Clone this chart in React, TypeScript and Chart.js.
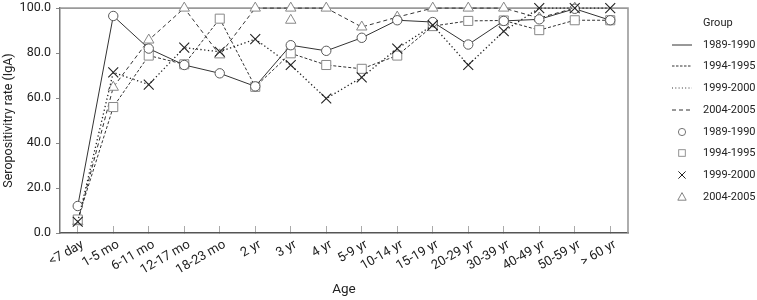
import React, { useEffect, useRef } from 'react';
import { Chart, registerables } from 'chart.js';

Chart.register(...registerables);

const categories = ['<7 day', '1-5 mo', '6-11 mo', '12-17 mo', '18-23 mo', '2 yr', '3 yr', '4 yr', '5-9 yr', '10-14 yr', '15-19 yr', '20-29 yr', '30-39 yr', '40-49 yr', '50-59 yr', '> 60 yr'];

const group1989 = [12, 96.5, 82, 74.7, 71, 65.2, 83.5, 81, 86.8, 94.6, 93.8, 83.8, 94.3, 95, 99.7, 94.6];
const group1994 = [6, 56, 78.9, 75, 95.3, 65, 79.9, 74.7, 73, 78.9, 92, 94.3, 94.5, 90.2, 94.6, 94.6];
const group1999 = [5, 71.4, 66, 82.4, 80.6, 86.2, 74.7, 59.8, 69.2, 82, 92.4, 74.7, 89.7, 100, 100, 100];
const group2004 = [5, 64.8, 85.8, 100, 79.2, 100, 100, 100, 91.6, 96, 100, 100, 100, 95.6, 100, null];
const group2004Extra = [null, null, null, null, null, null, 94.6, null, null, null, null, null, null, null, null, null];

const yTicks = [0, 20, 40, 60, 80, 100];

const lineLegend = [
  { label: '1989-1990', dash: '' },
  { label: '1994-1995', dash: '2.5 1.5' },
  { label: '1999-2000', dash: '1 2.3' },
  { label: '2004-2005', dash: '4 3' },
];
const markerLegend = [
  { label: '1989-1990', kind: 'circle' },
  { label: '1994-1995', kind: 'square' },
  { label: '1999-2000', kind: 'x' },
  { label: '2004-2005', kind: 'triangle' },
];

const framePlugin = {
  id: 'frame',
  beforeDatasetsDraw(chart: any) {
    const { ctx, chartArea } = chart;
    const { left, right, top, bottom } = chartArea;
    ctx.save();
    ctx.strokeStyle = '#9a9a9a';
    ctx.lineWidth = 1.6;
    ctx.beginPath();
    ctx.moveTo(left, top);
    ctx.lineTo(right, top);
    ctx.lineTo(right, bottom);
    ctx.stroke();
    ctx.restore();
  },
};

function Icon({ kind, dash }: { kind: string; dash?: string }) {
  const cx = 12;
  const cy = 6;
  let el: any = null;
  if (kind === 'line') {
    el = <line x1={2} y1={cy} x2={22} y2={cy} stroke="#333" strokeWidth={1} strokeDasharray={dash || undefined} />;
  } else if (kind === 'circle') {
    el = <circle cx={cx} cy={cy} r={3.6} fill="#fff" stroke="#666" strokeWidth={0.9} />;
  } else if (kind === 'square') {
    el = <rect x={cx - 3.3} y={cy - 3.3} width={6.6} height={6.6} fill="#fff" stroke="#888" strokeWidth={0.9} />;
  } else if (kind === 'x') {
    el = (
      <g stroke="#222" strokeWidth={1}>
        <line x1={cx - 3.6} y1={cy - 3.6} x2={cx + 3.6} y2={cy + 3.6} />
        <line x1={cx - 3.6} y1={cy + 3.6} x2={cx + 3.6} y2={cy - 3.6} />
      </g>
    );
  } else if (kind === 'triangle') {
    el = <polygon points={`${cx},${cy - 4.4} ${cx + 4.2},${cy + 3.2} ${cx - 4.2},${cy + 3.2}`} fill="#fff" stroke="#777" strokeWidth={0.9} />;
  }
  return (
    <svg width={24} height={12} style={{ position: 'absolute', left: 0, top: 0 }}>
      {el}
    </svg>
  );
}

function Legend() {
  const textStyle: React.CSSProperties = {
    position: 'absolute',
    left: 33,
    top: 0,
    height: 12,
    lineHeight: '12px',
    fontFamily: 'Roboto, sans-serif',
    fontSize: 11,
    color: '#222',
    whiteSpace: 'nowrap',
  };
  const items = [
    ...lineLegend.map((l) => ({ label: l.label, kind: 'line', dash: l.dash })),
    ...markerLegend.map((m) => ({ label: m.label, kind: m.kind, dash: '' })),
  ];
  return (
    <div style={{ position: 'absolute', left: 670, top: 0, width: 87, height: 300 }}>
      <div style={{ position: 'absolute', left: 0, top: 23 - 6, width: 87, height: 12 }}>
        <div style={textStyle}>Group</div>
      </div>
      {items.map((it, i) => (
        <div key={i} style={{ position: 'absolute', left: 0, top: 23 + 21.7 * (i + 1) - 6, width: 87, height: 12 }}>
          <Icon kind={it.kind} dash={it.dash} />
          <div style={textStyle}>{it.label}</div>
        </div>
      ))}
    </div>
  );
}

export default function App() {
  const ref = useRef<HTMLCanvasElement>(null);
  useEffect(() => {
    if (!ref.current) return;
    Chart.defaults.font.family = 'Roboto, sans-serif';
    const chart = new Chart(ref.current, {
      type: 'line',
      data: {
        labels: categories,
        datasets: [
          {
            label: '1989-1990',
            data: group1989,
            borderColor: '#333',
            borderWidth: 1,
            pointStyle: 'circle',
            pointRadius: 4.7,
            pointBackgroundColor: '#fff',
            pointBorderColor: '#5a5a5a',
            pointBorderWidth: 1,
            order: 1,
            clip: false,
          },
          {
            label: '1994-1995',
            data: group1994,
            borderColor: '#333',
            borderWidth: 1,
            borderDash: [3, 2],
            pointStyle: 'rect',
            pointRadius: 6.4,
            pointBackgroundColor: '#fff',
            pointBorderColor: '#888',
            pointBorderWidth: 1,
            order: 2,
            clip: false,
          },
          {
            label: '1999-2000',
            data: group1999,
            borderColor: '#222',
            borderWidth: 1.3,
            borderDash: [1.3, 2.5],
            pointStyle: 'crossRot',
            pointRadius: 7,
            pointBorderColor: '#222',
            pointBorderWidth: 1.1,
            order: 0,
            clip: false,
          },
          {
            label: '2004-2005',
            data: group2004,
            borderColor: '#333',
            borderWidth: 1,
            borderDash: [4, 3],
            pointStyle: 'triangle',
            pointRadius: 6,
            pointBackgroundColor: '#fff',
            pointBorderColor: '#888',
            pointBorderWidth: 1,
            order: 3,
            clip: false,
          },
          {
            label: '2004-2005 extra',
            data: group2004Extra,
            showLine: false,
            pointStyle: 'triangle',
            pointRadius: 6,
            pointBackgroundColor: '#fff',
            pointBorderColor: '#888',
            pointBorderWidth: 1,
            order: 3,
            clip: false,
          },
        ],
      },
      options: {
        responsive: false,
        animation: false,
        events: [],
        layout: { padding: { top: 6, right: 129, left: 0, bottom: 0 } },
        plugins: {
          legend: { display: false },
          tooltip: { enabled: false },
        },
        scales: {
          x: {
            type: 'category',
            offset: true,
            afterFit(scale: any) {
              scale.height = 67;
              scale.paddingLeft = 0;
              scale.paddingRight = 0;
            },
            grid: {
              drawOnChartArea: false,
              drawTicks: true,
              tickLength: -7,
              color: '#aaa',
              lineWidth: 1,
            },
            border: { display: true, color: '#555', width: 1.5 },
            ticks: {
              autoSkip: false,
              minRotation: 30,
              maxRotation: 30,
              padding: 11,
              labelOffset: 5,
              color: '#222',
              font: { size: 13, family: 'Roboto, sans-serif' },
            },
            title: {
              display: true,
              text: 'Age',
              color: '#222',
              font: { size: 13.5, family: 'Roboto, sans-serif' },
              padding: { top: 0, bottom: 2 },
            },
          },
          y: {
            min: 0,
            max: 100,
            afterFit(scale: any) {
              scale.width = 60;
              scale.paddingTop = 0;
              scale.paddingBottom = 0;
            },
            afterBuildTicks(scale: any) {
              scale.ticks = yTicks.map((v) => ({ value: v }));
            },
            grid: {
              drawOnChartArea: false,
              drawTicks: true,
              tickLength: 4,
              color: '#888',
            },
            border: { display: true, color: '#777', width: 1.5 },
            ticks: {
              padding: 5,
              color: '#222',
              font: { size: 12.5, family: 'Roboto, sans-serif' },
              callback: (v: any) => Number(v).toFixed(1),
            },
            title: {
              display: true,
              text: 'Seropositivitry rate (IgA)',
              color: '#222',
              font: { size: 12.5, family: 'Roboto, sans-serif' },
              padding: { top: 1, bottom: 0 },
            },
          },
        },
      },
      plugins: [framePlugin],
    } as any);
    return () => chart.destroy();
  }, []);
  return (
    <div style={{ position: 'absolute', left: 0, top: 0, width: 757, height: 300, background: '#fff' }}>
      <canvas ref={ref} width={757} height={300} style={{ display: 'block' }} />
      <Legend />
    </div>
  );
}
